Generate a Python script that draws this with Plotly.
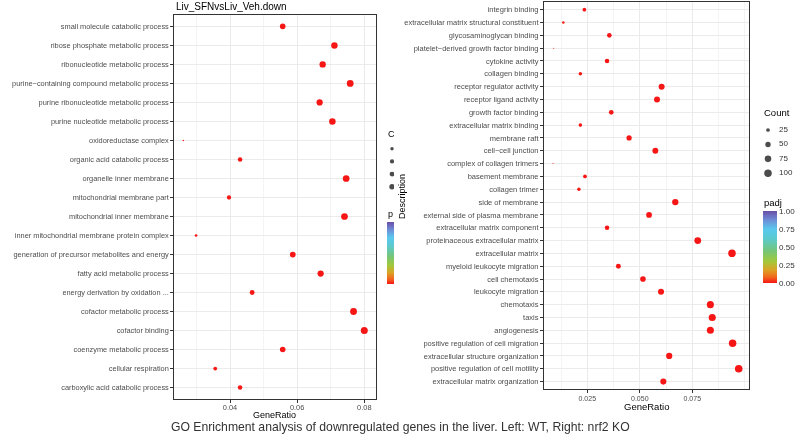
import numpy as np
import plotly.graph_objects as go

W, H = 800, 436

# ---------------- data ----------------
left_terms = [
    "small molecule catabolic process",
    "ribose phosphate metabolic process",
    "ribonucleotide metabolic process",
    "purine\u2212containing compound metabolic process",
    "purine ribonucleotide metabolic process",
    "purine nucleotide metabolic process",
    "oxidoreductase complex",
    "organic acid catabolic process",
    "organelle inner membrane",
    "mitochondrial membrane part",
    "mitochondrial inner membrane",
    "inner mitochondrial membrane protein complex",
    "generation of precursor metabolites and energy",
    "fatty acid metabolic process",
    "energy derivation by oxidation ...",
    "cofactor metabolic process",
    "cofactor binding",
    "coenzyme metabolic process",
    "cellular respiration",
    "carboxylic acid catabolic process",
]
left_ratio = [0.0557, 0.0711, 0.0676, 0.0758, 0.0667, 0.0705, 0.0261, 0.0430,
              0.0746, 0.0397, 0.0741, 0.0299, 0.0587, 0.0670, 0.0466, 0.0768,
              0.0800, 0.0557, 0.0356, 0.0430]
left_count = [42, 53, 51, 57, 50, 53, 20, 32, 56, 30, 56, 22, 44, 50, 35, 58,
              60, 42, 27, 32]
left_padj = [0.001, 0.001, 0.001, 0.001, 0.001, 0.001, 0.004, 0.002, 0.001, 0.003,
             0.001, 0.004, 0.001, 0.001, 0.002, 0.001, 0.001, 0.001, 0.003, 0.002]

right_terms = [
    "integrin binding",
    "extracellular matrix structural constituent",
    "glycosaminoglycan binding",
    "platelet\u2212derived growth factor binding",
    "cytokine activity",
    "collagen binding",
    "receptor regulator activity",
    "receptor ligand activity",
    "growth factor binding",
    "extracellular matrix binding",
    "membrane raft",
    "cell\u2212cell junction",
    "complex of collagen trimers",
    "basement membrane",
    "collagen trimer",
    "side of membrane",
    "external side of plasma membrane",
    "extracellular matrix component",
    "proteinaceous extracellular matrix",
    "extracellular matrix",
    "myeloid leukocyte migration",
    "cell chemotaxis",
    "leukocyte migration",
    "chemotaxis",
    "taxis",
    "angiogenesis",
    "positive regulation of cell migration",
    "extracellular structure organization",
    "positive regulation of cell motility",
    "extracellular matrix organization",
]
right_ratio = [0.0236, 0.0136, 0.0355, 0.0090, 0.0344, 0.0217, 0.0604, 0.0582,
               0.0364, 0.0217, 0.0449, 0.0574, 0.0087, 0.0239, 0.0210, 0.0669,
               0.0544, 0.0344, 0.0776, 0.0939, 0.0398, 0.0515, 0.0601, 0.0836,
               0.0845, 0.0836, 0.0942, 0.0640, 0.0971, 0.0612]
right_count = [25, 14, 37, 9, 36, 23, 63, 61, 38, 23, 47, 60, 9, 25, 22, 70,
               57, 36, 81, 99, 42, 54, 63, 88, 89, 88, 99, 67, 102, 64]
right_padj = [0.002, 0.004, 0.001, 0.006, 0.001, 0.003, 0.001, 0.001, 0.001, 0.003,
              0.001, 0.001, 0.006, 0.002, 0.003, 0.001, 0.001, 0.001, 0.001, 0.001,
              0.001, 0.001, 0.001, 0.001, 0.001, 0.001, 0.001, 0.001, 0.001, 0.001]

left_xticks = [0.04, 0.06, 0.08]
left_xticktext = ["0.04", "0.06", "0.08"]
right_xticks = [0.025, 0.050, 0.075]
right_xticktext = ["0.025", "0.050", "0.075"]
count_legend = [25, 50, 75, 100]
left_count_legend = [25, 30, 35, 40]
padj_ticks = [0, 0.25, 0.5, 0.75, 1.0]
padj_ticktext = ["0.00", "0.25", "0.50", "0.75", "1.00"]

# ---------------- styling helpers ----------------
FONT = "Liberation Sans, Arial, sans-serif"
colorscale = [
    [0.00, "#f51515"],
    [0.08, "#f2661e"],
    [0.18, "#dca224"],
    [0.30, "#a2c83a"],
    [0.45, "#74c67a"],
    [0.62, "#5ccad0"],
    [0.75, "#5ac8ee"],
    [0.88, "#6e8bd6"],
    [1.00, "#6a4ea6"],
]


def px_x(p):
    return p / W


def px_y(p):
    return 1 - p / H


def size_scale(c, cmin, cmax, dmin, dmax):
    c = np.asarray(c, dtype=float)
    t = np.clip((c - cmin) / (cmax - cmin), 0, 1)
    return dmin + (dmax - dmin) * np.sqrt(t)


L_MIN, L_MAX = min(left_count), max(left_count)
R_MIN, R_MAX = min(right_count), max(right_count)

fig = go.Figure()

# left panel points
fig.add_trace(go.Scatter(
    x=left_ratio, y=left_terms, mode="markers", xaxis="x", yaxis="y",
    marker=dict(size=size_scale(left_count, L_MIN, L_MAX, 1.5, 7.0), sizemode="diameter",
                color=left_padj, cmin=0, cmax=1, colorscale=colorscale, line=dict(width=0),
                opacity=1, showscale=True,
                colorbar=dict(thickness=7, thicknessmode="pixels", len=62, lenmode="pixels",
                              x=px_x(387), xanchor="left", y=px_y(253), yanchor="middle",
                              xpad=0, ypad=0, outlinewidth=0, showticklabels=False, ticks="")),
    hoverinfo="skip", showlegend=False,
))

# right panel points
fig.add_trace(go.Scatter(
    x=right_ratio, y=right_terms, mode="markers", xaxis="x2", yaxis="y2",
    marker=dict(size=size_scale(right_count, R_MIN, R_MAX, 1.0, 7.6), sizemode="diameter",
                color=right_padj, cmin=0, cmax=1, colorscale=colorscale, line=dict(width=0),
                opacity=1, showscale=True,
                colorbar=dict(thickness=14, thicknessmode="pixels", len=72, lenmode="pixels",
                              x=px_x(763), xanchor="left", y=px_y(247), yanchor="middle",
                              xpad=0, ypad=0, outlinewidth=0, ticks="",
                              tickvals=padj_ticks, ticktext=padj_ticktext,
                              tickfont=dict(family=FONT, size=8, color="#333333"))),
    hoverinfo="skip", showlegend=False,
))

# right size legend (Count)
fig.add_trace(go.Scatter(
    x=[0] * len(count_legend), y=count_legend, mode="markers", xaxis="x3", yaxis="y3",
    marker=dict(size=size_scale(count_legend, R_MIN, R_MAX, 1.0, 7.6), color="black",
                line=dict(width=0)),
    hoverinfo="skip", showlegend=False,
))
fig.add_trace(go.Scatter(
    x=[11] * len(count_legend), y=count_legend, mode="text", xaxis="x3", yaxis="y3",
    text=[str(v) for v in count_legend], textposition="middle right",
    textfont=dict(family=FONT, size=8, color="#333333"),
    hoverinfo="skip", showlegend=False,
))

# left clipped size legend
fig.add_trace(go.Scatter(
    x=[0] * len(left_count_legend), y=left_count_legend, mode="markers",
    xaxis="x4", yaxis="y4", cliponaxis=True,
    marker=dict(size=size_scale(left_count_legend, L_MIN, L_MAX, 1.5, 7.0), color="black",
                line=dict(width=0)),
    hoverinfo="skip", showlegend=False,
))

grid_major = "#ebebeb"
grid_minor = "#f4f4f4"
tickfont_l = dict(family=FONT, size=7.4, color="#4d4d4d")
tickfont_r = dict(family=FONT, size=7.5, color="#4d4d4d")
xtickfont_r = dict(family=FONT, size=7, color="#4d4d4d")

common_axis = dict(showline=True, mirror=True, linecolor="#333333", linewidth=1,
                   ticks="outside", ticklen=3, tickwidth=1, tickcolor="#333333",
                   zeroline=False, showgrid=True, gridcolor=grid_major, gridwidth=1)

fig.update_layout(
    width=W, height=H, margin=dict(l=0, r=0, t=0, b=0),
    paper_bgcolor="white", plot_bgcolor="white", showlegend=False,
    font=dict(family=FONT),
    xaxis=dict(domain=[px_x(174.3), px_x(375.7)], range=[0.02341, 0.0834], anchor="y",
               tickmode="array", tickvals=left_xticks, ticktext=left_xticktext,
               tickfont=tickfont_l, ticklabelstandoff=-2,
               minor=dict(dtick=0.01, tick0=0, showgrid=True, gridcolor=grid_minor, gridwidth=0.6, ticks=""),
               **common_axis),
    yaxis=dict(domain=[px_y(399), px_y(15)], anchor="x", type="category",
               categoryorder="array", categoryarray=left_terms,
               range=[len(left_terms) - 1 + 0.6, -0.6], tickfont=tickfont_l, **common_axis),
    xaxis2=dict(domain=[px_x(544), px_x(749)], range=[0.00438, 0.1020], anchor="y2",
                tickmode="array", tickvals=right_xticks, ticktext=right_xticktext,
                tickfont=xtickfont_r, ticklabelstandoff=-1,
                minor=dict(dtick=0.0125, tick0=0, showgrid=True, gridcolor=grid_minor, gridwidth=0.6, ticks=""),
                **common_axis),
    yaxis2=dict(domain=[px_y(389.3), px_y(2)], anchor="x2", type="category",
                categoryorder="array", categoryarray=right_terms,
                range=[len(right_terms) - 1 + 0.6, -0.6], tickfont=tickfont_r, **common_axis),
    xaxis3=dict(domain=[px_x(760), px_x(800)], range=[-8, 32], visible=False, anchor="y3"),
    yaxis3=dict(domain=[px_y(180), px_y(120)], range=[111.6, 7.67], visible=False, anchor="x3"),
    xaxis4=dict(domain=[px_x(380), px_x(394)], range=[-12, 2], visible=False, anchor="y4"),
    yaxis4=dict(domain=[px_y(195), px_y(140)], range=[43.23, 21.57], visible=False, anchor="x4"),
)

annotations = [
    dict(text="Liv_SFNvsLiv_Veh.down", x=px_x(174), y=px_y(6), xanchor="left", yanchor="middle",
         font=dict(size=10, color="black")),
    dict(text="GeneRatio", x=px_x(274.5), y=px_y(414.5), xanchor="center", yanchor="middle",
         font=dict(size=9, color="black")),
    dict(text="GeneRatio", x=px_x(646.5), y=px_y(406), xanchor="center", yanchor="middle",
         font=dict(size=9.5, color="black")),
    dict(text="Description", x=px_x(402), y=px_y(196), xanchor="center", yanchor="middle",
         textangle=-90, font=dict(size=9, color="black")),
    dict(text="Count", x=px_x(762), y=px_y(113), xanchor="left", yanchor="middle",
         font=dict(size=9.5, color="black")),
    dict(text="padj", x=px_x(762), y=px_y(203), xanchor="left", yanchor="middle",
         font=dict(size=9.5, color="black")),
    dict(text="C", x=px_x(386), y=px_y(134), xanchor="left", yanchor="middle",
         font=dict(size=9, color="black")),
    dict(text="p", x=px_x(386), y=px_y(214), xanchor="left", yanchor="middle",
         font=dict(size=9, color="black")),
    dict(text="GO Enrichment analysis of downregulated genes in the liver. Left: WT, Right: nrf2 KO",
         x=0.5, y=px_y(427), xanchor="center", yanchor="middle",
         font=dict(size=12.2, color="#333333")),
]
for a in annotations:
    a.update(xref="paper", yref="paper", showarrow=False)
fig.update_layout(annotations=annotations)

fig.write_html(
    "out.html",
    config={"displayModeBar": False},
    post_script=(
        "document.body.style.margin='0px';document.body.style.overflow='hidden';"
        "var gd=document.querySelector('.plotly-graph-div');"
        "if(gd){gd.style.willChange='transform';}"
    ),
)
